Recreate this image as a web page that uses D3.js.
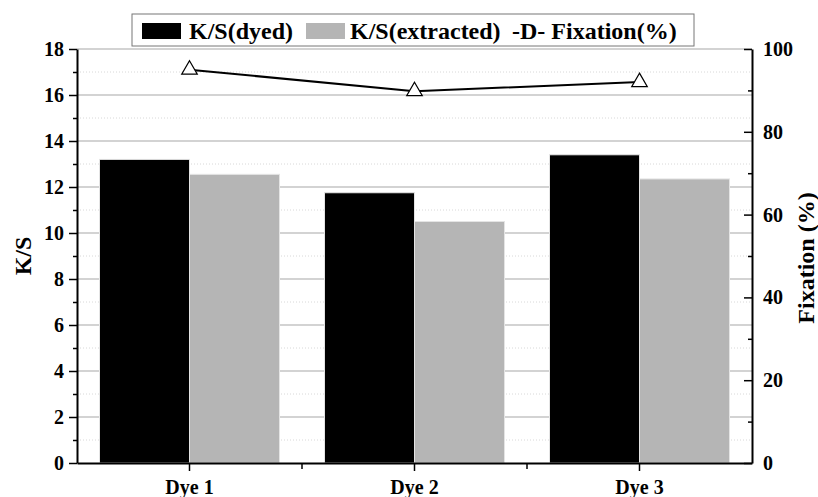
<!DOCTYPE html>
<html>
<head>
<meta charset="utf-8">
<script src="https://cdn.jsdelivr.net/npm/d3@7"></script>
<style>
  html, body { margin: 0; padding: 0; background: #fff; }
  svg text { font-family: "Liberation Serif", "Times New Roman", serif; font-weight: bold; fill: #000; }
</style>
</head>
<body>
<svg id="chart" width="818" height="497"></svg>
<script>
const categories = ["Dye 1", "Dye 2", "Dye 3"];
const seriesNames = ["K/S(dyed)", "K/S(extracted)"];
const ksDyed = [13.2, 11.75, 13.4];
const ksExtracted = [12.55, 10.5, 12.35];
const fixation = [95, 89.8, 92];
const leftTicks = [0, 2, 4, 6, 8, 10, 12, 14, 16, 18];
const rightTicks = [0, 20, 40, 60, 80, 100];
const legendLabels = ["K/S(dyed)", "K/S(extracted)", "-D- Fixation(%)"];
const leftTitle = "K/S";
const rightTitle = "Fixation (%)";

const svg = d3.select("#chart");
const L = 77, R = 752, T = 49, B = 463;

const x0 = d3.scaleBand().domain(categories).range([L, R]).paddingInner(0.2).paddingOuter(0.1);
const x1 = d3.scaleBand().domain(seriesNames).range([0, x0.bandwidth()]).padding(0);
const y = d3.scaleLinear().domain([0, 18]).range([B, T]);
const y2 = d3.scaleLinear().domain([0, 100]).range([B, T]);
const colors = { "K/S(dyed)": "#000000", "K/S(extracted)": "#b5b5b5" };

// gridlines
const minorVals = d3.range(1, 18, 2);
svg.append("g").selectAll("line").data(minorVals).join("line")
  .attr("x1", L).attr("x2", R).attr("y1", d => y(d)).attr("y2", d => y(d))
  .attr("stroke", "#d8d8d8").attr("stroke-width", 1).attr("stroke-dasharray", "1,2");
svg.append("g").selectAll("line").data(leftTicks.filter(d => d > 0)).join("line")
  .attr("x1", L).attr("x2", R).attr("y1", d => y(d)).attr("y2", d => y(d))
  .attr("stroke", "#c4c4c4").attr("stroke-width", 1.5);

// bars
const rows = categories.map((c, i) => ({ cat: c, vals: [
  { s: seriesNames[0], v: ksDyed[i] }, { s: seriesNames[1], v: ksExtracted[i] } ] }));
svg.append("g").selectAll("g").data(rows).join("g")
  .attr("transform", d => `translate(${x0(d.cat)},0)`)
  .selectAll("rect").data(d => d.vals).join("rect")
  .attr("x", d => x1(d.s)).attr("width", x1.bandwidth())
  .attr("y", d => y(d.v)).attr("height", d => y(0) - y(d.v))
  .attr("fill", d => colors[d.s]).attr("stroke", "#e4e4e4").attr("stroke-width", 1);

// fixation line
const pts = categories.map((c, i) => [x0(c) + x0.bandwidth() / 2, y2(fixation[i])]);
svg.append("path").datum(pts).attr("d", d3.line())
  .attr("fill", "none").attr("stroke", "#000").attr("stroke-width", 2);
svg.append("g").selectAll("path").data(pts).join("path")
  .attr("transform", d => `translate(${d[0]},${d[1]})`)
  .attr("d", d3.symbol().type(d3.symbolTriangle).size(105))
  .attr("fill", "#fff").attr("stroke", "#000").attr("stroke-width", 1.2);

// axes
const axisStyle = g => {
  g.select(".domain").attr("stroke", "#000").attr("stroke-width", 2);
  g.selectAll(".tick line").attr("stroke", "#000").attr("stroke-width", 1.5);
  g.selectAll("text").style("font-size", "20px").style("font-family", "Liberation Serif, serif").style("font-weight", "bold");
};
// left minor ticks
svg.append("g").attr("transform", `translate(${L},0)`)
  .call(d3.axisLeft(y).tickValues(minorVals).tickSize(4).tickFormat(""))
  .call(g => g.select(".domain").remove())
  .call(g => g.selectAll(".tick line").attr("stroke", "#000").attr("stroke-width", 1.5));
svg.append("g").attr("transform", `translate(${L},0)`)
  .call(d3.axisLeft(y).tickValues(leftTicks).tickSize(8).tickSizeOuter(0).tickPadding(5).tickFormat(d3.format("d")))
  .call(axisStyle);

// right axis (ticks inward)
svg.append("g").attr("transform", `translate(${R},0)`)
  .call(d3.axisLeft(y2).tickValues(d3.range(10, 100, 20)).tickSize(4).tickFormat(""))
  .call(g => g.select(".domain").remove())
  .call(g => g.selectAll(".tick line").attr("stroke", "#000").attr("stroke-width", 1.5));
const rAx = svg.append("g").attr("transform", `translate(${R},0)`)
  .call(d3.axisRight(y2).tickValues(rightTicks).tickSize(0).tickSizeOuter(0).tickPadding(11).tickFormat(d3.format("d")))
  .call(axisStyle);
rAx.selectAll(".tick").append("line").attr("x1", -8).attr("x2", 0).attr("stroke", "#000").attr("stroke-width", 1.5);

// bottom axis
const boundaries = categories.slice(1).map(c => x0(c) - x0.step() * x0.paddingInner() / 2);
svg.append("g").attr("transform", `translate(0,${B})`)
  .selectAll("line").data(boundaries).join("line")
  .attr("x1", d => d).attr("x2", d => d).attr("y1", 0).attr("y2", 6)
  .attr("stroke", "#000").attr("stroke-width", 1.5);
svg.append("g").attr("transform", `translate(0,${B})`)
  .call(d3.axisBottom(x0).tickSize(8).tickSizeOuter(0).tickPadding(9))
  .call(axisStyle);

// axis titles
svg.append("text").attr("transform", `translate(31,${(T + B) / 2}) rotate(-90)`)
  .attr("text-anchor", "middle").style("font-size", "24px").text(leftTitle);
svg.append("text").attr("transform", `translate(814,${(T + B) / 2 + 2}) rotate(-90)`)
  .attr("text-anchor", "middle").style("font-size", "24px").text(rightTitle);

// legend
const lg = svg.append("g");
lg.append("rect").attr("x", 132).attr("y", 14).attr("width", 562).attr("height", 32)
  .attr("fill", "#fff").attr("stroke", "#777").attr("stroke-width", 1);
const swatchX = [142, 306];
seriesNames.forEach((s, i) => {
  lg.append("rect").attr("x", swatchX[i]).attr("y", 23).attr("width", 39).attr("height", 16)
    .attr("fill", colors[s]);
});
const textX = [189, 350, 512];
legendLabels.forEach((t, i) => {
  lg.append("text").attr("x", textX[i]).attr("y", 38.5).style("font-size", "24px").text(t);
});
</script>
</body>
</html>
